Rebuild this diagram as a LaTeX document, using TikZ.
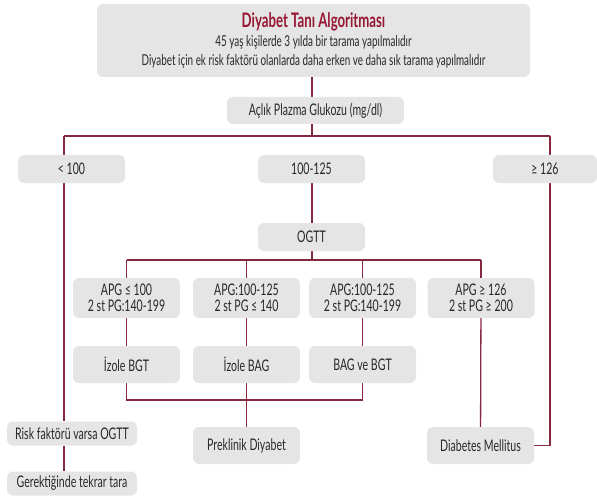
\documentclass[tikz,border=0pt]{standalone}
\usepackage{fontspec}
\setmainfont{Lato}[FakeStretch=0.66]
\usetikzlibrary{backgrounds}

\definecolor{boxgray}{RGB}{229,229,229}
\definecolor{linered}{RGB}{135,40,65}
\definecolor{titlered}{RGB}{150,22,52}
\definecolor{txtgray}{RGB}{40,40,40}

\begin{document}
\begin{tikzpicture}[x=1pt,y=-1pt,
  box/.style={fill=boxgray,rounded corners=6pt,inner sep=0pt,align=center,
    text=txtgray,font=\fontsize{16}{16.5}\selectfont,
    minimum width=107,minimum height=28},
  link/.style={draw=linered,line width=1.3pt}]
  \useasboundingbox (0,0) rectangle (597,500);

  % header and first test
  \node[box,minimum width=433,minimum height=73,font=\fontsize{15}{19}\selectfont]
    (title) at (313.5,40.5)
    {{\fontsize{20}{19}\selectfont\bfseries\color{titlered}Diyabet Tanı Algoritması}\\
     45 yaş kişilerde 3 yılda bir tarama yapılmalıdır\\
     Diyabet için ek risk faktörü olanlarda daha erken ve daha sık tarama yapılmalıdır};
  \node[box,minimum width=177,minimum height=27] (aclik) at (315.5,110.5)
    {Açlık Plazma Glukozu (mg/dl)};

  % fasting glucose groups
  \node[box] (lt) at (71.5,169) {< 100};
  \node[box] (mid) at (311.5,169) {100-125};
  \node[box,minimum width=104] (ge) at (545,169) {≥ 126};
  \node[box] (ogtt) at (311.5,237) {OGTT};

  % OGTT results
  \foreach \n/\x/\t in {a/126.5/{APG ≤ 100\\2 st PG:140-199},
                        b/246.5/{APG:100-125\\2 st PG ≤ 140},
                        c/362.5/{APG:100-125\\2 st PG:140-199},
                        d/481/{APG ≥ 126\\2 st PG ≥ 200}}
    \node[box,minimum height=40] (\n) at (\x,298) {\t};
  \foreach \n/\x/\t in {izbgt/126.5/İzole BGT, izbag/246.5/İzole BAG,
                        bagbgt/362.5/BAG ve BGT}
    \node[box,minimum height=37] (\n) at (\x,364.5) {\t};

  % outcomes
  \node[box,minimum height=37] (prek) at (246.5,445.5) {Preklinik Diyabet};
  \node[box,minimum height=37] (dm) at (480.5,445.5) {Diabetes Mellitus};
  \node[box,minimum width=130,minimum height=24] (risk) at (72,433.5) {Risk faktörü varsa OGTT};
  \node[box,minimum width=130,minimum height=24] (tara) at (72,483.5) {Gerektiğinde tekrar tara};

  \coordinate (busA) at (312,136);
  \coordinate (busL) at (64,136);
  \coordinate (busR) at (550,136);
  \coordinate (busB) at (312,260);
  \coordinate (busC) at (312,400);

  \begin{pgfonlayer}{background}
    \draw[link] (busA |- title.south) -- (busA);
    \draw[link] (busL) -- (busR);
    \draw[link] (busL) -- (busL |- risk.north);
    \draw[link] (busL |- risk.south) -- (busL |- tara.north);
    \draw[link] (busR) |- (dm.east);
    \draw[link] (busA |- mid.south) -- (busA |- ogtt.north);
    \draw[link] (busA |- ogtt.south) -- (busB);
    \draw[link] (a.north |- busB) -- (d.north |- busB);
    \foreach \n in {a,b,c,d}
      \draw[link] (\n.north |- busB) -- (\n.north);
    \draw[link] (a) -- (izbgt);
    \draw[link] (b) -- (izbag);
    \draw[link] (c) -- (bagbgt);
    \draw[link] (izbgt.south) |- (busC -| bagbgt) -- (bagbgt.south);
    \draw[link] (izbag) -- (prek);
    \draw[link] (d) -- (dm);
  \end{pgfonlayer}
\end{tikzpicture}
\end{document}
